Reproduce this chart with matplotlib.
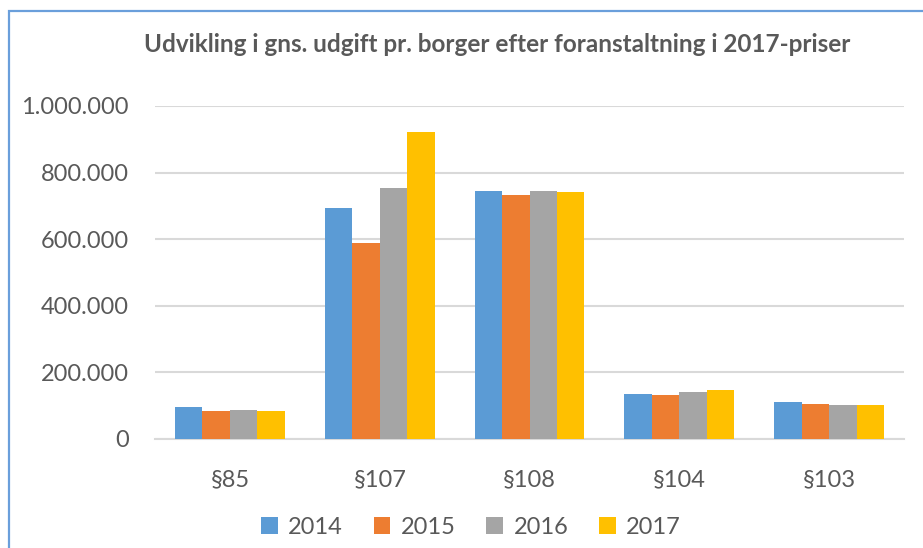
import numpy as np
import matplotlib.pyplot as plt
from matplotlib.patches import Rectangle
from matplotlib.ticker import FuncFormatter

# ============== DATA ==============
categories = ['§85', '§107', '§108', '§104', '§103']
years = ['2014', '2015', '2016', '2017']
vals_2014 = [95500, 692000, 746000, 134600, 110500]
vals_2015 = [83000, 589000, 731000, 131600, 104500]
vals_2016 = [86000, 755000, 746000, 140700, 101500]
vals_2017 = [83000, 923000, 743000, 146700, 101500]
colors = ['#5B9BD5', '#ED7D31', '#A5A5A5', '#FFC000']
# ==================================

TXT = '#595959'
plt.rcParams['font.family'] = ['Lato', 'DejaVu Sans']

W, H = 923, 548
fig = plt.figure(figsize=(W / 100, H / 100), dpi=100)

# chart-area frame (runs off the right and bottom edge)
fig.patches.append(Rectangle((9 / W, -0.1), 1.2, 1 - 11 / H + 0.1,
                             transform=fig.transFigure, fill=False,
                             edgecolor='#6A9FDB', linewidth=1.6))

ax = fig.add_axes([155 / W, 1 - 438.7 / H, (904 - 155) / W, (438.7 - 106) / H])

series = [vals_2014, vals_2015, vals_2016, vals_2017]
x = np.arange(len(categories))
group_w = 110 / 150
bw = group_w / len(series)
for i, (vals, c, lab) in enumerate(zip(series, colors, years)):
    ax.bar(x - group_w / 2 + bw * (i + 0.5), vals, width=bw, color=c,
           label=lab, zorder=3)

ax.set_xlim(-0.5, len(categories) - 0.5)
ax.set_ylim(0, 1_000_000)
ax.set_yticks(np.arange(0, 1_000_001, 200_000))
ax.yaxis.set_major_formatter(FuncFormatter(lambda v, p: f'{int(v):,}'.replace(',', '.')))
ax.set_xticks(x)
ax.set_xticklabels(categories)

ax.grid(axis='y', color='#D9D9D9', linewidth=1.5, zorder=0)
for s in ['top', 'right', 'left']:
    ax.spines[s].set_visible(False)
ax.spines['bottom'].set_color('#D9D9D9')
ax.spines['bottom'].set_linewidth(1.5)
ax.tick_params(axis='both', length=0, labelsize=17, colors=TXT)
ax.tick_params(axis='y', pad=19)
ax.tick_params(axis='x', pad=22)

fig.text(497 / W, 1 - 45 / H, 'Udvikling i gns. udgift pr. borger efter foranstaltning i 2017-priser',
         ha='center', va='center', fontsize=17.5, fontweight='bold', color=TXT)

leg = fig.legend(loc='center', bbox_to_anchor=(471 / W, 1 - 527 / H), ncol=4,
                 frameon=False, fontsize=17, handlelength=0.7, handleheight=0.7,
                 handletextpad=0.45, columnspacing=1.3)
for t in leg.get_texts():
    t.set_color(TXT)

fig.savefig('out.png', dpi=100)
